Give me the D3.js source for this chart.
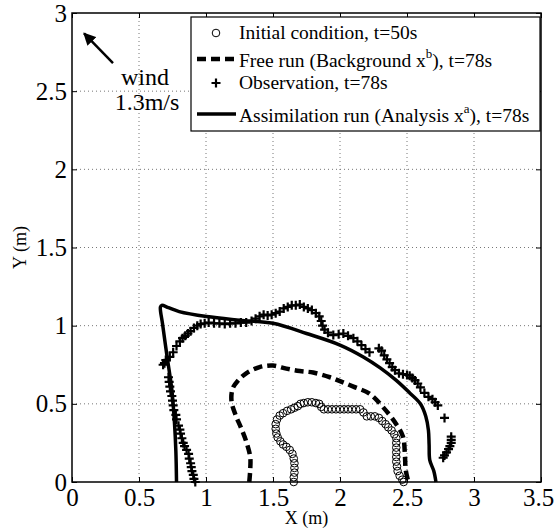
<!DOCTYPE html>
<html>
<head>
<meta charset="utf-8">
<script src="https://cdn.jsdelivr.net/npm/d3@7"></script>
<style>
  body { margin: 0; background: #fff; }
  text { font-family: "Liberation Serif", "Times New Roman", serif; fill: #000; }
</style>
</head>
<body>
<div id="chart"></div>
<script>

// ---- data (metres) ----
var xTicks = [0, 0.5, 1, 1.5, 2, 2.5, 3, 3.5];
var yTicks = [0, 0.5, 1, 1.5, 2, 2.5, 3];

var legendLabels = [
  "Initial condition, t=50s",
  "Free run (Background x|b), t=78s",
  "Observation, t=78s",
  "Assimilation run (Analysis x|a), t=78s"
];

// initial condition, t=50s (circles)
var initialX = [1.655,1.655,1.66,1.66,1.66,1.655,1.645,1.625,1.60,1.575,1.555,1.535,1.525,1.52,1.52,1.53,1.55,1.575,1.605,1.635,1.66,1.685,1.705,1.73,1.76,1.79,1.82,1.845,1.86,1.88,1.91,1.94,1.97,2.0,2.03,2.06,2.09,2.12,2.15,2.175,2.20,2.23,2.26,2.29,2.315,2.34,2.36,2.385,2.405,2.42,2.42,2.42,2.42,2.42,2.42,2.425,2.43,2.445,2.465,2.475];
var initialY = [0.0,0.03,0.06,0.09,0.12,0.15,0.18,0.205,0.225,0.24,0.26,0.285,0.31,0.34,0.37,0.40,0.425,0.44,0.455,0.465,0.475,0.485,0.50,0.505,0.51,0.51,0.505,0.50,0.48,0.465,0.465,0.465,0.465,0.465,0.465,0.465,0.465,0.465,0.465,0.445,0.42,0.42,0.42,0.41,0.39,0.37,0.35,0.33,0.305,0.28,0.25,0.22,0.19,0.16,0.13,0.10,0.07,0.04,0.015,0.0];

// free run (background)
var freeX = [1.323,1.33,1.33,1.30,1.26,1.22,1.19,1.20,1.24,1.30,1.40,1.50,1.60,1.70,1.80,1.925,2.0,2.10,2.22,2.32,2.42,2.47,2.485,2.49,2.51];
var freeY = [0.0,0.08,0.16,0.26,0.35,0.43,0.52,0.60,0.65,0.695,0.735,0.745,0.725,0.71,0.70,0.67,0.645,0.61,0.565,0.48,0.37,0.29,0.16,0.08,0.0];

// observation (plus markers)
var obsX = [0.92,0.91,0.905,0.895,0.89,0.885,0.875,0.87,0.855,0.84,0.83,0.82,0.81,0.805,0.795,0.78,0.775,0.76,0.755,0.75,0.745,0.735,0.73,0.725,0.72,
  0.69,0.68,0.70,0.73,0.755,0.78,0.805,0.825,0.845,0.865,0.885,0.91,0.935,0.96,0.99,1.02,1.06,1.10,1.14,1.18,1.22,1.26,1.30,1.34,1.37,1.40,1.43,1.46,1.49,1.52,1.55,1.58,1.61,1.64,1.67,1.70,1.73,1.76,1.79,1.82,1.845,1.86,1.87,1.885,1.91,1.95,1.99,2.025,2.06,2.10,2.13,2.16,2.19,2.22,
  2.29,2.31,2.33,2.35,2.37,2.39,2.41,2.44,2.47,2.50,2.52,2.54,2.56,2.58,2.60,2.63,2.66,2.69,2.71,2.73,2.78,2.83,2.83,2.83,2.82,2.81,2.795,2.78,2.77];
var obsY = [0.0,0.02,0.045,0.07,0.095,0.12,0.15,0.18,0.205,0.23,0.25,0.28,0.31,0.335,0.36,0.40,0.43,0.46,0.49,0.52,0.55,0.58,0.61,0.64,0.67,
  0.76,0.75,0.78,0.80,0.83,0.87,0.90,0.92,0.935,0.95,0.965,0.985,1.0,1.01,1.015,1.02,1.015,1.015,1.01,1.015,1.015,1.02,1.02,1.03,1.045,1.06,1.07,1.065,1.07,1.08,1.09,1.11,1.12,1.13,1.13,1.135,1.12,1.11,1.10,1.08,1.06,1.03,1.0,0.975,0.955,0.94,0.945,0.95,0.935,0.92,0.90,0.875,0.85,0.83,
  0.855,0.84,0.81,0.785,0.76,0.735,0.715,0.695,0.69,0.685,0.68,0.665,0.65,0.63,0.605,0.57,0.545,0.53,0.51,0.49,0.41,0.29,0.27,0.25,0.23,0.21,0.19,0.17,0.155];

// assimilation run (analysis)
var assimX = [0.78,0.775,0.765,0.745,0.71,0.675,0.66,0.67,0.72,0.80,1.005,1.25,1.50,1.75,2.0,2.174,2.30,2.42,2.52,2.60,2.64,2.66,2.665,2.67,2.70,2.716];
var assimY = [0.0,0.2,0.375,0.59,0.80,1.015,1.12,1.13,1.115,1.09,1.058,1.035,1.015,0.95,0.876,0.80,0.73,0.65,0.57,0.50,0.42,0.33,0.24,0.14,0.07,0.0];

function zip(xs, ys) { return xs.map(function(x, i) { return [x, ys[i]]; }); }

//=========================================================================
// Dimensions
//=========================================================================
var width = 555, height = 530;
var margin = { top: 13, right: 14, bottom: 48, left: 72 },
    iwidth = width - margin.left - margin.right,
    iheight = height - margin.top - margin.bottom;

var svg = d3.select("#chart").append("svg")
  .attr("width", width)
  .attr("height", height);

var g = svg.append("g")
  .attr("transform", `translate(${margin.left}, ${margin.top})`);

var x = d3.scaleLinear().domain([0, 3.5]).range([0, iwidth]);
var y = d3.scaleLinear().domain([0, 3]).range([iheight, 0]);

//=========================================================================
// Grid
//=========================================================================
g.append("g").selectAll("line").data(xTicks.slice(1, -1)).enter()
  .append("line")
  .attr("x1", d => x(d)).attr("x2", d => x(d))
  .attr("y1", 0).attr("y2", iheight)
  .attr("stroke", "#777").attr("stroke-width", 1)
  .attr("stroke-dasharray", "1,3");

g.append("g").selectAll("line").data(yTicks.slice(1, -1)).enter()
  .append("line")
  .attr("y1", d => y(d)).attr("y2", d => y(d))
  .attr("x1", 0).attr("x2", iwidth)
  .attr("stroke", "#777").attr("stroke-width", 1)
  .attr("stroke-dasharray", "1,3");

//=========================================================================
// Series
//=========================================================================
var line = d3.line().x(d => x(d[0])).y(d => y(d[1])).curve(d3.curveCatmullRom);
var plusPath = "M-4.5,0H4.5M0,-4.5V4.5";

g.append("path")
  .datum(zip(freeX, freeY))
  .attr("d", line)
  .attr("fill", "none")
  .attr("stroke", "#000")
  .attr("stroke-width", 4.5)
  .attr("stroke-dasharray", "9,5");

g.append("path")
  .datum(zip(assimX, assimY))
  .attr("d", line)
  .attr("fill", "none")
  .attr("stroke", "#000")
  .attr("stroke-width", 3.5)
  .attr("stroke-linejoin", "round");

g.append("g").selectAll("circle")
  .data(zip(initialX, initialY)).enter()
  .append("circle")
  .attr("cx", d => x(d[0]))
  .attr("cy", d => y(d[1]))
  .attr("r", 3.8)
  .attr("fill", "none")
  .attr("stroke", "#000")
  .attr("stroke-width", 1);

g.append("g").selectAll("path")
  .data(zip(obsX, obsY)).enter()
  .append("path")
  .attr("transform", d => `translate(${x(d[0])}, ${y(d[1])})`)
  .attr("d", plusPath)
  .attr("stroke", "#000")
  .attr("stroke-width", 2.2);

//=========================================================================
// Axes (MATLAB style box, ticks inward)
//=========================================================================
var fontTick = 25;

var xAxis = g.append("g")
  .attr("transform", `translate(0, ${iheight})`)
  .call(d3.axisBottom(x).tickValues(xTicks).tickFormat(d3.format("")).tickSize(-5).tickPadding(6));
g.append("g")
  .call(d3.axisLeft(y).tickValues(yTicks).tickFormat(d3.format("")).tickSize(-5).tickPadding(5));
g.append("g")
  .call(d3.axisTop(x).tickValues(xTicks).tickFormat("").tickSize(-5));
g.append("g")
  .attr("transform", `translate(${iwidth}, 0)`)
  .call(d3.axisRight(y).tickValues(yTicks).tickFormat("").tickSize(-5));

g.selectAll(".domain").remove();
g.selectAll(".tick line").attr("stroke", "#000").attr("stroke-width", 1);
g.selectAll(".tick text")
  .style("font-family", '"Liberation Serif", serif')
  .style("font-size", fontTick + "px")
  .attr("fill", "#000");

// last label sits on the page edge, nudge it in
xAxis.selectAll(".tick text").filter(d => d == 3.5).attr("dx", -3);

g.append("rect")
  .attr("width", iwidth).attr("height", iheight)
  .attr("fill", "none").attr("stroke", "#000").attr("stroke-width", 1.5);

svg.append("text")
  .attr("x", margin.left + iwidth / 2)
  .attr("y", 524)
  .attr("text-anchor", "middle")
  .style("font-size", "18px")
  .text("X (m)");

svg.append("text")
  .attr("transform", `translate(26, ${margin.top + iheight / 2}) rotate(-90)`)
  .attr("text-anchor", "middle")
  .style("font-size", "18px")
  .text("Y (m)");

//=========================================================================
// Wind annotation
//=========================================================================
svg.append("defs").append("marker")
  .attr("id", "arrow")
  .attr("viewBox", "0 0 10 10")
  .attr("refX", 9).attr("refY", 5)
  .attr("markerWidth", 5).attr("markerHeight", 5)
  .attr("orient", "auto")
  .append("path").attr("d", "M0,0L10,5L0,10z").attr("fill", "#000");

g.append("line")
  .attr("x1", x(0.306)).attr("y1", y(2.68))
  .attr("x2", x(0.09)).attr("y2", y(2.87))
  .attr("stroke", "#000").attr("stroke-width", 2.5)
  .attr("marker-end", "url(#arrow)");

g.append("text")
  .attr("x", x(0.545)).attr("y", y(2.54))
  .attr("text-anchor", "middle")
  .style("font-size", "24px")
  .text("wind");
g.append("text")
  .attr("x", x(0.56)).attr("y", y(2.38))
  .attr("text-anchor", "middle")
  .style("font-size", "24px")
  .text("1.3m/s");

//=========================================================================
// Legend
//=========================================================================
var lg = svg.append("g");
lg.append("rect")
  .attr("x", 191).attr("y", 17).attr("width", 349).attr("height", 114)
  .attr("fill", "#fff").attr("stroke", "#000").attr("stroke-width", 1.2);

var rowY = [33, 59, 83, 114];
var textY = [39, 67, 89, 122];

lg.append("circle").attr("cx", 216).attr("cy", rowY[0]).attr("r", 3.8)
  .attr("fill", "none").attr("stroke", "#000");
lg.append("line").attr("x1", 197).attr("x2", 236).attr("y1", rowY[1]).attr("y2", rowY[1])
  .attr("stroke", "#000").attr("stroke-width", 4.5).attr("stroke-dasharray", "9,5");
lg.append("path").attr("transform", `translate(216, ${rowY[2]})`)
  .attr("d", plusPath).attr("stroke", "#000").attr("stroke-width", 2.2);
lg.append("line").attr("x1", 197).attr("x2", 236).attr("y1", rowY[3]).attr("y2", rowY[3])
  .attr("stroke", "#000").attr("stroke-width", 3.5);

legendLabels.forEach(function(lab, i) {
  var t = lg.append("text").attr("x", 239).attr("y", textY[i]).style("font-size", "19.5px");
  var parts = lab.split("|");
  if (parts.length == 1) {
    t.text(lab);
  } else {
    // superscript letter follows "x"
    var rest = parts[1];
    t.append("tspan").text(parts[0]);
    t.append("tspan").attr("dy", -9).style("font-size", "13px").text(rest.charAt(0));
    t.append("tspan").attr("dy", 9).text(rest.slice(1));
  }
});

</script>
</body>
</html>
